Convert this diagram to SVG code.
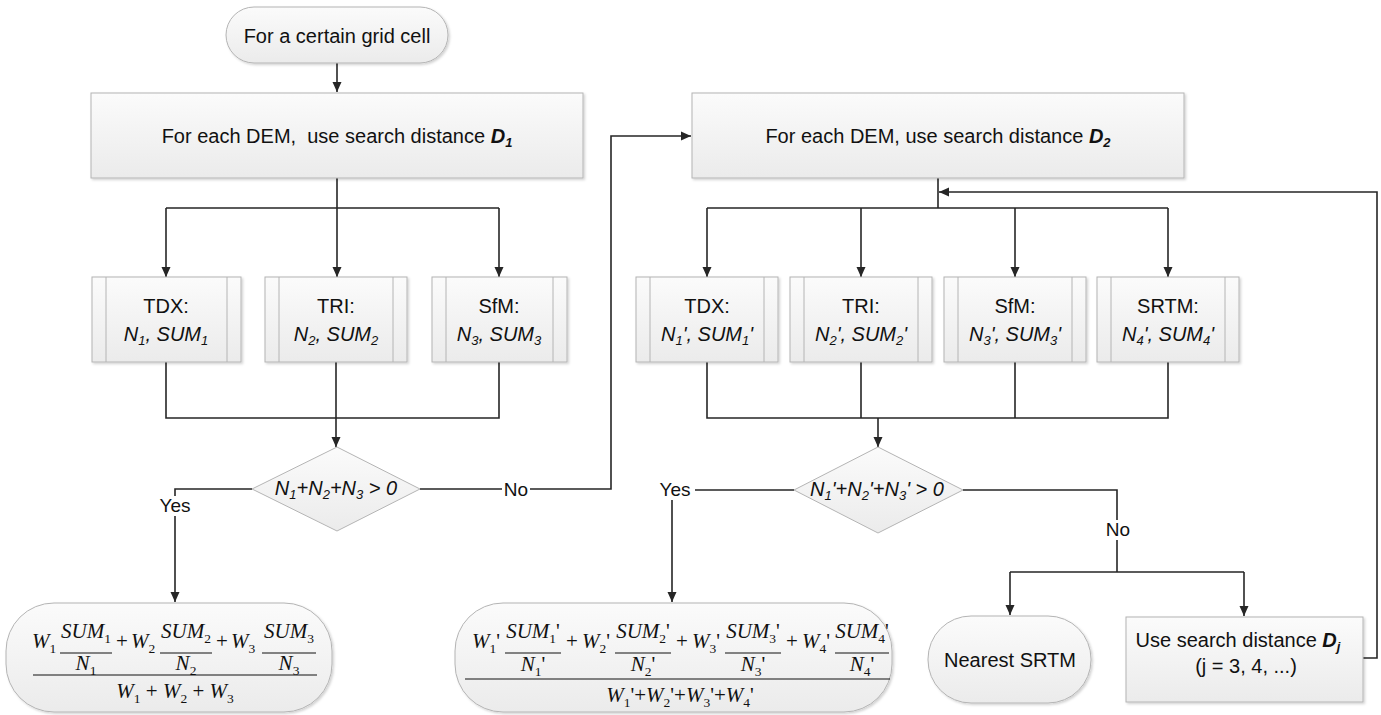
<svg xmlns="http://www.w3.org/2000/svg" width="1381" height="715" viewBox="0 0 1381 715">
<defs>
<linearGradient id="gf" x1="0" y1="0" x2="0" y2="1">
<stop offset="0" stop-color="#fbfbfb"/>
<stop offset="1" stop-color="#ebebeb"/>
</linearGradient>
<filter id="sh" x="-5%" y="-5%" width="115%" height="120%">
<feDropShadow dx="1.5" dy="1.5" stdDeviation="1" flood-color="#000" flood-opacity="0.18"/>
</filter>
<marker id="ah" viewBox="0 0 10 10" refX="10" refY="5" markerWidth="10" markerHeight="10" markerUnits="userSpaceOnUse" orient="auto">
<path d="M0,0.5 L10,5 L0,9.5 z" fill="#262626"/>
</marker>
</defs>
<style>
.box{fill:url(#gf);stroke:#b4b4b4;stroke-width:1;filter:url(#sh)}
.in{stroke:#b4b4b4;stroke-width:1}
.c{fill:none;stroke:#262626;stroke-width:1.6}
.a{marker-end:url(#ah)}
.t{font-family:"Liberation Sans",Arial,sans-serif;font-size:20px;fill:#111;text-anchor:middle}
.i{font-style:italic}
.b{font-weight:bold;font-style:italic}
.sb{font-size:13px}
.lbl{font-family:"Liberation Sans",Arial,sans-serif;font-size:19px;fill:#111;text-anchor:middle}
.m{font-family:"Liberation Serif","Times New Roman",serif;font-size:21px;fill:#111}
.mc{text-anchor:middle}
.mi{font-style:italic}
.ms{font-size:13.5px}
.fl{stroke:#111;stroke-width:1}
</style>
<rect width="1381" height="715" fill="#fff"/>

<g id="connectors">
<path class="c a" d="M337,63 V92"/>
<path class="c" d="M337,178 V208 M166,208 H499"/>
<path class="c a" d="M166,208 V277"/>
<path class="c a" d="M337,208 V277"/>
<path class="c a" d="M499,208 V277"/>
<path class="c" d="M166,362 V418 H499 V362"/>
<path class="c a" d="M336,362 V447"/>
<path class="c a" d="M252,489 H175 V602"/>
<path class="c a" d="M420,489 H611 V136 H691"/>
<path class="c" d="M938,178 V208 M707,208 H1168"/>
<path class="c a" d="M707,208 V277"/>
<path class="c a" d="M861,208 V277"/>
<path class="c a" d="M1015,208 V277"/>
<path class="c a" d="M1168,208 V277"/>
<path class="c a" d="M1363,658 H1377 V192 H939"/>
<path class="c" d="M707,362 V418 H1168 V362 M861,362 V418 M1015,362 V418"/>
<path class="c a" d="M878,418 V447"/>
<path class="c a" d="M794,490 H672 V602"/>
<path class="c" d="M963,490 H1117 V572 M1010,572 H1244"/>
<path class="c a" d="M1010,572 V615"/>
<path class="c a" d="M1244,572 V616"/>
<rect x="155" y="496" width="40" height="20" fill="#fff"/>
<text class="lbl" x="175" y="512">Yes</text>
<rect x="502" y="480" width="28" height="20" fill="#fff"/>
<text class="lbl" x="516" y="496">No</text>
<rect x="655" y="480" width="40" height="20" fill="#fff"/>
<text class="lbl" x="675" y="496">Yes</text>
<rect x="1104" y="520" width="28" height="20" fill="#fff"/>
<text class="lbl" x="1118" y="536">No</text>
</g>

<g id="n_start">
<rect class="box" x="226" y="7" width="222" height="56" rx="28"/>
<text class="t" x="337" y="43">For a certain grid cell</text>
</g>

<g id="n_d1">
<rect class="box" x="91" y="93" width="492" height="85"/>
<text class="t" x="337" y="143" xml:space="preserve">For each DEM,  use search distance <tspan class="b">D</tspan><tspan class="b sb" dy="4">1</tspan></text>
</g>

<g id="n_tdx">
<rect class="box" x="92" y="277" width="149" height="85"/>
<line class="in" x1="106" y1="277" x2="106" y2="362"/><line class="in" x1="227" y1="277" x2="227" y2="362"/>
<text class="t" x="166" y="313">TDX:</text>
<text class="t i" x="166" y="341">N<tspan class="sb" dy="4">1</tspan><tspan dy="-4">, SUM</tspan><tspan class="sb" dy="4">1</tspan></text>
</g>
<g id="n_tri">
<rect class="box" x="265" y="277" width="142" height="85"/>
<line class="in" x1="279" y1="277" x2="279" y2="362"/><line class="in" x1="393" y1="277" x2="393" y2="362"/>
<text class="t" x="336" y="313">TRI:</text>
<text class="t i" x="336" y="341">N<tspan class="sb" dy="4">2</tspan><tspan dy="-4">, SUM</tspan><tspan class="sb" dy="4">2</tspan></text>
</g>
<g id="n_sfm">
<rect class="box" x="432" y="277" width="135" height="85"/>
<line class="in" x1="446" y1="277" x2="446" y2="362"/><line class="in" x1="553" y1="277" x2="553" y2="362"/>
<text class="t" x="499" y="313">SfM:</text>
<text class="t i" x="499" y="341">N<tspan class="sb" dy="4">3</tspan><tspan dy="-4">, SUM</tspan><tspan class="sb" dy="4">3</tspan></text>
</g>

<g id="n_dec1">
<polygon points="337,447 420,489 337,531 252,489" fill="url(#gf)" stroke="#b4b4b4" stroke-width="1"/>
<text class="t i" x="336" y="495">N<tspan class="sb" dy="4">1</tspan><tspan dy="-4">+N</tspan><tspan class="sb" dy="4">2</tspan><tspan dy="-4">+N</tspan><tspan class="sb" dy="4">3</tspan><tspan dy="-4"> &gt; 0</tspan></text>
</g>

<g id="n_d2">
<rect class="box" x="692" y="93" width="492" height="85"/>
<text class="t" x="938" y="143">For each DEM, use search distance <tspan class="b">D</tspan><tspan class="b sb" dy="4">2</tspan></text>
</g>

<g id="n_tdx2">
<rect class="box" x="636" y="277" width="142" height="85"/>
<line class="in" x1="650" y1="277" x2="650" y2="362"/><line class="in" x1="764" y1="277" x2="764" y2="362"/>
<text class="t" x="707" y="313">TDX:</text>
<text class="t i" x="707" y="341">N<tspan class="sb" dy="4">1</tspan><tspan dy="-4">', SUM</tspan><tspan class="sb" dy="4">1</tspan><tspan dy="-4">'</tspan></text>
</g>
<g id="n_tri2">
<rect class="box" x="790" y="277" width="142" height="85"/>
<line class="in" x1="804" y1="277" x2="804" y2="362"/><line class="in" x1="918" y1="277" x2="918" y2="362"/>
<text class="t" x="861" y="313">TRI:</text>
<text class="t i" x="861" y="341">N<tspan class="sb" dy="4">2</tspan><tspan dy="-4">', SUM</tspan><tspan class="sb" dy="4">2</tspan><tspan dy="-4">'</tspan></text>
</g>
<g id="n_sfm2">
<rect class="box" x="944" y="277" width="142" height="85"/>
<line class="in" x1="958" y1="277" x2="958" y2="362"/><line class="in" x1="1072" y1="277" x2="1072" y2="362"/>
<text class="t" x="1015" y="313">SfM:</text>
<text class="t i" x="1015" y="341">N<tspan class="sb" dy="4">3</tspan><tspan dy="-4">', SUM</tspan><tspan class="sb" dy="4">3</tspan><tspan dy="-4">'</tspan></text>
</g>
<g id="n_srtm2">
<rect class="box" x="1097" y="277" width="142" height="85"/>
<line class="in" x1="1111" y1="277" x2="1111" y2="362"/><line class="in" x1="1225" y1="277" x2="1225" y2="362"/>
<text class="t" x="1168" y="313">SRTM:</text>
<text class="t i" x="1168" y="341">N<tspan class="sb" dy="4">4</tspan><tspan dy="-4">', SUM</tspan><tspan class="sb" dy="4">4</tspan><tspan dy="-4">'</tspan></text>
</g>

<g id="n_dec2">
<polygon points="878,447 963,490 878,533 794,490" fill="url(#gf)" stroke="#b4b4b4" stroke-width="1"/>
<text class="t i" x="877" y="496">N<tspan class="sb" dy="4">1</tspan><tspan dy="-4">'+N</tspan><tspan class="sb" dy="4">2</tspan><tspan dy="-4">'+N</tspan><tspan class="sb" dy="4">3</tspan><tspan dy="-4">' &gt; 0</tspan></text>
</g>

<g id="n_result1">
<rect class="box" x="6" y="603" width="326" height="109" rx="48"/>
<text class="m" x="32" y="648"><tspan class="mi">W</tspan><tspan class="ms" dy="5">1</tspan></text>
<text class="m mc" x="86" y="638"><tspan class="mi">SUM</tspan><tspan class="ms" dy="5">1</tspan></text>
<line class="fl" x1="60" y1="653" x2="112" y2="653"/>
<text class="m mc" x="86" y="670"><tspan class="mi">N</tspan><tspan class="ms" dy="5">1</tspan></text>
<text class="m mc" x="122" y="648">+</text>
<text class="m" x="131" y="648"><tspan class="mi">W</tspan><tspan class="ms" dy="5">2</tspan></text>
<text class="m mc" x="186" y="638"><tspan class="mi">SUM</tspan><tspan class="ms" dy="5">2</tspan></text>
<line class="fl" x1="160" y1="653" x2="212" y2="653"/>
<text class="m mc" x="186" y="670"><tspan class="mi">N</tspan><tspan class="ms" dy="5">2</tspan></text>
<text class="m mc" x="222" y="648">+</text>
<text class="m" x="231" y="648"><tspan class="mi">W</tspan><tspan class="ms" dy="5">3</tspan></text>
<text class="m mc" x="289" y="638"><tspan class="mi">SUM</tspan><tspan class="ms" dy="5">3</tspan></text>
<line class="fl" x1="262" y1="653" x2="316" y2="653"/>
<text class="m mc" x="289" y="670"><tspan class="mi">N</tspan><tspan class="ms" dy="5">3</tspan></text>
<line class="fl" x1="33" y1="675" x2="317" y2="675"/>
<text class="m mc" x="175" y="698"><tspan class="mi">W</tspan><tspan class="ms" dy="5">1</tspan><tspan dy="-5"> + </tspan><tspan class="mi">W</tspan><tspan class="ms" dy="5">2</tspan><tspan dy="-5"> + </tspan><tspan class="mi">W</tspan><tspan class="ms" dy="5">3</tspan></text>
</g>

<g id="n_result2">
<rect class="box" x="455" y="603" width="437" height="109" rx="48"/>
<text class="m" x="472" y="648"><tspan class="mi">W</tspan><tspan class="ms" dy="5">1</tspan><tspan dy="-5">'</tspan></text>
<text class="m mc" x="533" y="638"><tspan class="mi">SUM</tspan><tspan class="ms" dy="5">1</tspan><tspan dy="-5">'</tspan></text>
<line class="fl" x1="505" y1="653" x2="561" y2="653"/>
<text class="m mc" x="533" y="671"><tspan class="mi">N</tspan><tspan class="ms" dy="5">1</tspan><tspan dy="-5">'</tspan></text>
<text class="m mc" x="572" y="648">+</text>
<text class="m" x="582" y="648"><tspan class="mi">W</tspan><tspan class="ms" dy="5">2</tspan><tspan dy="-5">'</tspan></text>
<text class="m mc" x="643" y="638"><tspan class="mi">SUM</tspan><tspan class="ms" dy="5">2</tspan><tspan dy="-5">'</tspan></text>
<line class="fl" x1="615" y1="653" x2="671" y2="653"/>
<text class="m mc" x="643" y="671"><tspan class="mi">N</tspan><tspan class="ms" dy="5">2</tspan><tspan dy="-5">'</tspan></text>
<text class="m mc" x="682" y="648">+</text>
<text class="m" x="692" y="648"><tspan class="mi">W</tspan><tspan class="ms" dy="5">3</tspan><tspan dy="-5">'</tspan></text>
<text class="m mc" x="753" y="638"><tspan class="mi">SUM</tspan><tspan class="ms" dy="5">3</tspan><tspan dy="-5">'</tspan></text>
<line class="fl" x1="725" y1="653" x2="781" y2="653"/>
<text class="m mc" x="753" y="671"><tspan class="mi">N</tspan><tspan class="ms" dy="5">3</tspan><tspan dy="-5">'</tspan></text>
<text class="m mc" x="792" y="648">+</text>
<text class="m" x="802" y="648"><tspan class="mi">W</tspan><tspan class="ms" dy="5">4</tspan><tspan dy="-5">'</tspan></text>
<text class="m mc" x="862" y="638"><tspan class="mi">SUM</tspan><tspan class="ms" dy="5">4</tspan><tspan dy="-5">'</tspan></text>
<line class="fl" x1="835" y1="653" x2="889" y2="653"/>
<text class="m mc" x="862" y="671"><tspan class="mi">N</tspan><tspan class="ms" dy="5">4</tspan><tspan dy="-5">'</tspan></text>
<line class="fl" x1="465" y1="679" x2="890" y2="679"/>
<text class="m mc" x="680" y="702"><tspan class="mi">W</tspan><tspan class="ms" dy="5">1</tspan><tspan dy="-5">'+</tspan><tspan class="mi">W</tspan><tspan class="ms" dy="5">2</tspan><tspan dy="-5">'+</tspan><tspan class="mi">W</tspan><tspan class="ms" dy="5">3</tspan><tspan dy="-5">'+</tspan><tspan class="mi">W</tspan><tspan class="ms" dy="5">4</tspan><tspan dy="-5">'</tspan></text>
</g>

<g id="n_nearest">
<rect class="box" x="928" y="616" width="163" height="87" rx="43"/>
<text class="t" x="1010" y="667">Nearest SRTM</text>
</g>

<g id="n_dj">
<rect class="box" x="1126" y="617" width="237" height="85"/>
<text class="t" x="1238" y="647">Use search distance <tspan class="b">D</tspan><tspan class="b sb" dy="4">j</tspan></text>
<text class="t" x="1246" y="673">(j = 3, 4, ...)</text>
</g>
</svg>
